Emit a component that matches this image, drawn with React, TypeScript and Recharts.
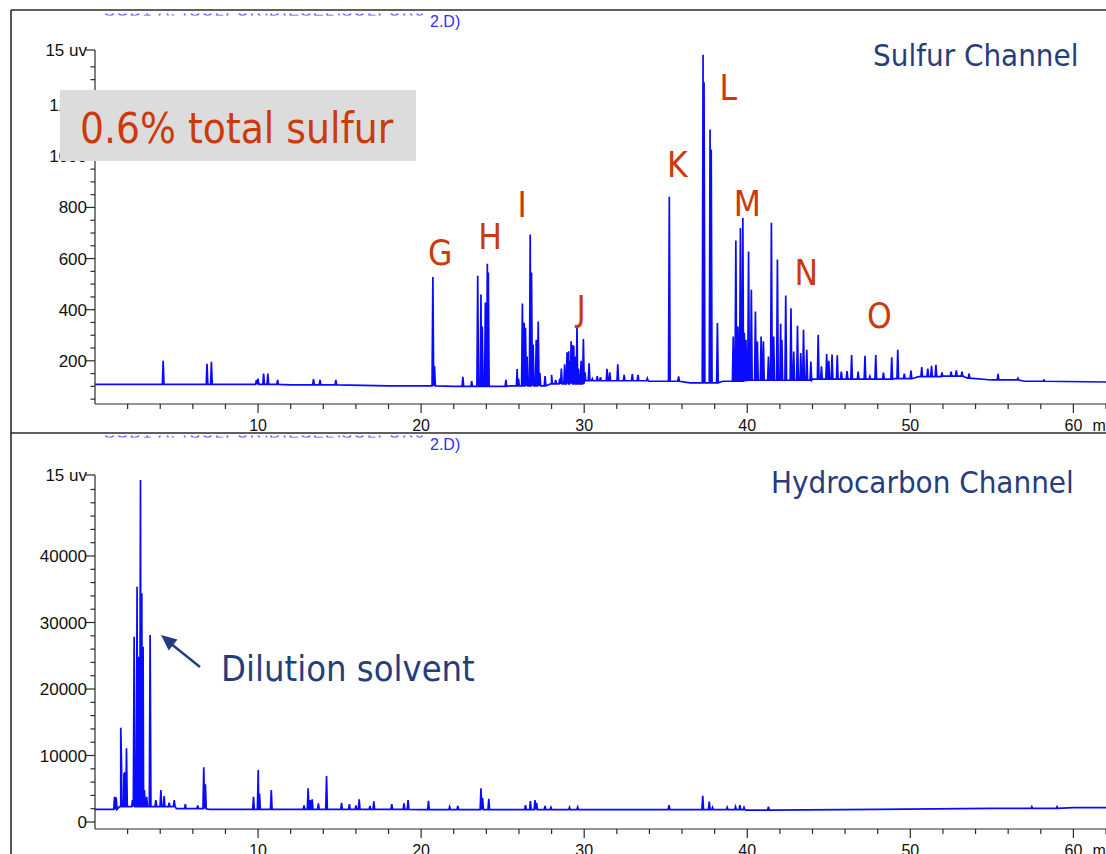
import React from 'react';
import { LineChart, Line, XAxis, YAxis, ReferenceDot } from 'recharts';

// retention time axis (min)
const timeTicks = [2, 4, 6, 8, 10, 12, 14, 16, 18, 20, 22, 24, 26, 28, 30, 32, 34, 36, 38, 40, 42, 44, 46, 48, 50, 52, 54, 56, 58, 60, 62];
const timeLabels = [10, 20, 30, 40, 50, 60];

// sulfur channel axis
const sulfurTicks = [50, 100, 150, 200, 250, 300, 350, 400, 450, 500, 550, 600, 650, 700, 750, 800, 850, 900, 950, 1000, 1050, 1100, 1150, 1200, 1250, 1300, 1350, 1416];
const sulfurLabels = [200, 400, 600, 800, 1000, 1200];
const sulfurDomain = [31, 1416];

// hydrocarbon channel axis
const hcTicks = [0, 2000, 4000, 6000, 8000, 10000, 12000, 14000, 16000, 18000, 20000, 22000, 24000, 26000, 28000, 30000, 32000, 34000, 36000, 38000, 40000, 42000, 44000, 46000, 48000, 50000, 52180];
const hcLabels = [0, 10000, 20000, 30000, 40000];
const hcDomain = [-1050, 52180];

// [time, signal]
const sulfurBaseline = [
  [0, 108], [12, 106], [18, 102], [22, 100], [25.5, 102], [28, 110], [30, 122], [34, 120], [36.5, 114],
  [38.5, 120], [40, 124], [44, 128], [49, 130], [50.5, 138], [52, 140], [53.5, 132], [55, 125], [57, 120], [62, 117],
];
const sulfurPeaks = [
  [4.18, 200], [6.87, 188], [7.14, 196], [9.9, 125], [10.0, 130], [10.34, 150], [10.6, 150], [11.2, 125],
  [13.4, 128], [13.8, 125], [14.77, 125],
  [20.72, 528], [20.82, 180], [22.56, 137], [23.1, 120],
  [23.47, 533], [23.67, 459], [23.75, 334], [23.94, 428], [24.06, 580], [24.12, 545],
  [25.2, 125], [25.89, 168], [25.97, 130],
  [26.21, 424], [26.32, 349], [26.4, 329], [26.5, 217], [26.69, 694], [26.77, 545], [26.87, 263], [27.06, 282], [27.18, 354], [27.28, 153],
  [27.6, 140], [28.0, 145], [28.25, 125], [28.5, 130], [28.6, 170], [28.8, 186], [28.95, 233], [29.05, 237], [29.1, 200],
  [29.2, 276], [29.3, 262], [29.36, 258], [29.44, 217], [29.56, 337], [29.65, 170], [29.81, 200], [29.95, 285], [30.05, 155],
  [30.3, 190], [30.5, 130], [30.8, 140], [31.0, 136], [31.4, 169], [31.57, 155], [32.06, 186], [32.45, 145], [32.95, 148],
  [33.3, 145], [33.87, 132],
  [35.22, 842], [35.79, 139],
  [37.29, 1397], [37.35, 1290], [37.72, 1105], [37.79, 1027], [38.17, 348], [38.7, 120],
  [39.14, 295], [39.3, 671], [39.43, 334], [39.58, 720], [39.73, 759], [39.82, 310], [39.92, 282], [40.08, 628], [40.25, 478],
  [40.5, 393], [40.62, 275], [40.85, 295], [40.99, 276], [41.3, 217], [41.48, 740], [41.62, 295], [41.85, 596], [42.05, 345],
  [42.12, 282], [42.36, 455], [42.68, 406], [42.85, 236], [43.08, 337], [43.28, 230], [43.45, 321], [43.65, 243], [43.9, 197],
  [44.35, 302], [44.55, 178], [44.87, 227], [45.0, 200], [45.2, 225], [45.52, 222], [45.77, 158], [46.12, 160], [46.4, 223],
  [46.8, 158], [47.22, 220], [47.52, 139], [47.88, 223], [48.35, 154], [48.86, 214], [49.23, 243], [49.63, 150], [50.04, 162],
  [50.7, 175], [51.07, 170], [51.3, 180], [51.57, 184], [51.94, 155], [52.5, 158], [52.82, 163], [53.17, 158], [53.6, 150],
  [55.38, 149], [56.6, 132], [58.2, 125],
];

const hcBaseline = [
  [0, 1900], [1.1, 1900], [1.5, 2300], [3.6, 2300], [5, 2000], [7, 1900], [20, 1850], [40, 1800], [48, 1900], [55, 2050], [60, 2150], [62, 2150],
];
const hcPeaks = [
  [1.2, 3800], [1.3, 3700], [1.58, 14180], [1.63, 8320], [1.78, 7370], [1.84, 7520], [1.93, 11080], [2.3, 3300],
  [2.4, 27870], [2.58, 35390], [2.66, 24860], [2.79, 51440], [2.87, 34400], [2.95, 26360], [3.03, 4800], [3.17, 3800],
  [3.38, 28120], [3.73, 3300], [4.04, 4800], [4.24, 3900], [4.55, 2900], [4.86, 3300], [5.54, 2700], [6.3, 2500],
  [6.67, 8230], [6.77, 5670], [9.72, 3800], [10.01, 7820], [10.09, 4300], [10.81, 4800], [12.82, 2500], [13.07, 5070],
  [13.2, 3300], [13.32, 3400], [13.7, 2800], [14.2, 6920], [15.12, 2900], [15.6, 2700], [16.0, 2500], [16.2, 3400],
  [16.86, 2400], [17.1, 3100], [18.2, 2700], [18.95, 2800], [19.2, 3300], [20.45, 3200], [21.75, 2300], [22.25, 2400],
  [23.67, 5070], [23.77, 3600], [24.15, 3500], [26.4, 2550], [26.7, 3150], [26.98, 3300], [27.08, 2900], [27.6, 2400],
  [27.96, 2200], [29.1, 2200], [29.6, 2250], [35.2, 2550], [37.27, 3960], [37.67, 3060], [37.87, 2200], [38.77, 2200],
  [39.28, 2300], [39.55, 2550], [39.8, 2200], [41.3, 2300], [57.45, 2300], [59, 2300],
];

// compound group letters on the sulfur trace: [letter, time, signal]
const peakGroups: [string, number, number][] = [
  ['G', 21.17, 622], ['H', 24.23, 685], ['I', 26.2, 810], ['J', 29.82, 403], ['K', 35.71, 967],
  ['L', 38.83, 1268], ['M', 40.0, 814], ['N', 43.62, 544], ['O', 48.1, 376],
];

const TRACE = '#0a0aff';
const AXIS = '#2b2b2b';
const NAVY = '#263d7d';
const RUST = '#cc3a0c';
const SANS = "'Liberation Sans', Arial, sans-serif";
const SLIDE = "'DejaVu Sans Condensed', 'DejaVu Sans', sans-serif";
const HEADER = 'SCD1 A,  (SULFUR\\DIESEL\\SULFUR0';

// baseline under a peak: last baseline point at or before t
const baseAt = (baseline: number[][], t: number) => {
  let b = baseline[0][1];
  for (const [bt, bv] of baseline) if (bt <= t) b = bv;
  return b;
};

const buildTrace = (baseline: number[][], peaks: number[][], hw: number) => {
  const pts = baseline.map(([t, v]) => ({ t, v }));
  peaks.forEach(([t, h]) => {
    const b = baseAt(baseline, t);
    pts.push({ t: t - hw, v: b }, { t, v: h }, { t: t + hw, v: b });
  });
  return pts.sort((a, b) => a.t - b.t);
};

const sulfurData = buildTrace(sulfurBaseline, sulfurPeaks, 0.05);
const hcData = buildTrace(hcBaseline, hcPeaks, 0.05);

const XTick = (props: any) => {
  const { x, y, payload } = props;
  const v = payload.value;
  const major = timeLabels.includes(v);
  return (
    <g>
      <line x1={x} x2={x} y1={y} y2={y + (major ? 9 : 5)} stroke={AXIS} strokeWidth={1.2} />
      {major && (
        <text x={x} y={y + 27} textAnchor="middle" fontSize={16} fontFamily={SANS} fill="#111">
          {v}
        </text>
      )}
      {v === 60 && (
        <text x={x + 19} y={y + 27} fontSize={16} fontFamily={SANS} fill="#111">
          min
        </text>
      )}
    </g>
  );
};

const makeYTick = (labels: number[], top: number) => (props: any) => {
  const { x, y, payload } = props;
  const v = payload.value;
  const isTop = v === top;
  const major = isTop || labels.includes(v);
  return (
    <g>
      <line x1={x - (major ? 9 : 4.5)} x2={x} y1={y} y2={y} stroke={AXIS} strokeWidth={1.2} />
      {major && (
        <text x={x - 8} y={y + 6} textAnchor="end" fontSize={17} fontFamily={SANS} fill="#111">
          {isTop ? '15 uv' : v}
        </text>
      )}
    </g>
  );
};

const PeakLetter = (letter: string) => (props: any) => (
  <text x={props.cx} y={props.cy} textAnchor="middle" dominantBaseline="central" fontSize={35} fontFamily={SLIDE} fill={RUST}>
    {letter}
  </text>
);

const App: React.FC = () => {
  return (
    <div style={{ position: 'absolute', left: 0, top: 0, width: 1106, height: 854, background: '#fff', overflow: 'hidden' }}>
      <div style={{ position: 'absolute', left: 0, top: 0 }}>
        <LineChart width={1106} height={433} data={sulfurData} margin={{ top: 50, right: 0, bottom: 0, left: 0 }}>
          <XAxis
            dataKey="t"
            type="number"
            domain={[0, 62]}
            allowDataOverflow
            ticks={timeTicks}
            interval={0}
            height={29}
            tickSize={0}
            tickMargin={0}
            tickLine={false}
            axisLine={{ stroke: AXIS, strokeWidth: 1.2 }}
            tick={XTick}
          />
          <YAxis
            type="number"
            domain={sulfurDomain}
            allowDataOverflow
            ticks={sulfurTicks}
            interval={0}
            width={95}
            tickSize={0}
            tickMargin={0}
            tickLine={false}
            axisLine={{ stroke: AXIS, strokeWidth: 1.2 }}
            tick={makeYTick(sulfurLabels, sulfurDomain[1])}
          />
          <Line dataKey="v" type="linear" stroke={TRACE} strokeWidth={1.7} dot={false} isAnimationActive={false} />
          {peakGroups.map(([letter, t, v]) => (
            <ReferenceDot key={letter} x={t} y={v} r={0} shape={PeakLetter(letter)} />
          ))}
        </LineChart>
      </div>

      <div style={{ position: 'absolute', left: 0, top: 433 }}>
        <LineChart width={1106} height={421} data={hcData} margin={{ top: 42, right: 0, bottom: 0, left: 0 }}>
          <XAxis
            dataKey="t"
            type="number"
            domain={[0, 62]}
            allowDataOverflow
            ticks={timeTicks}
            interval={0}
            height={25}
            tickSize={0}
            tickMargin={0}
            tickLine={false}
            axisLine={{ stroke: AXIS, strokeWidth: 1.2 }}
            tick={XTick}
          />
          <YAxis
            type="number"
            domain={hcDomain}
            allowDataOverflow
            ticks={hcTicks}
            interval={0}
            width={95}
            tickSize={0}
            tickMargin={0}
            tickLine={false}
            axisLine={{ stroke: AXIS, strokeWidth: 1.2 }}
            tick={makeYTick(hcLabels, hcDomain[1])}
          />
          <Line dataKey="v" type="linear" stroke={TRACE} strokeWidth={1.7} dot={false} isAnimationActive={false} />
        </LineChart>
      </div>

      {/* slide frame and annotations */}
      <svg width={1106} height={854} style={{ position: 'absolute', left: 0, top: 0, pointerEvents: 'none' }}>
        <defs>
          <clipPath id="hdrTop">
            <rect x={95} y={13.5} width={330} height={2} />
          </clipPath>
          <clipPath id="hdrBot">
            <rect x={95} y={435.5} width={330} height={2} />
          </clipPath>
        </defs>
        <line x1={11} x2={1106} y1={10} y2={10} stroke={AXIS} strokeWidth={1.6} />
        <line x1={11} x2={11} y1={10} y2={854} stroke={AXIS} strokeWidth={1.6} />
        <line x1={11} x2={1106} y1={433} y2={433} stroke={AXIS} strokeWidth={1.6} />

        <text x={104} y={15.5} fontSize={16} fontFamily={SANS} fill="#5050ff" clipPath="url(#hdrTop)" textLength={320}>{HEADER}</text>
        <text x={104} y={437.5} fontSize={16} fontFamily={SANS} fill="#5050ff" clipPath="url(#hdrBot)" textLength={320}>{HEADER}</text>
        <text x={430} y={27} fontSize={16} fontFamily={SANS} fill="#3030ff">2.D)</text>
        <text x={430} y={450} fontSize={16} fontFamily={SANS} fill="#3030ff">2.D)</text>

        <text x={873} y={66} fontSize={31} fontFamily={SLIDE} fill={NAVY}>Sulfur Channel</text>
        <text x={771} y={493} fontSize={31} fontFamily={SLIDE} fill={NAVY}>Hydrocarbon Channel</text>

        <rect x={60} y={90} width={356} height={71} fill="#dcdcdc" />
        <text x={80} y={143} fontSize={42} fontFamily={SLIDE} fill={RUST}>0.6% total sulfur</text>

        <line x1={200} y1={667} x2={170} y2={643} stroke={NAVY} strokeWidth={2.5} />
        <polygon points="161,635 177.5,639.6 168.7,650.4" fill={NAVY} />
        <text x={221} y={681} fontSize={36} fontFamily={SLIDE} fill={NAVY}>Dilution solvent</text>
      </svg>
    </div>
  );
};

export default App;
